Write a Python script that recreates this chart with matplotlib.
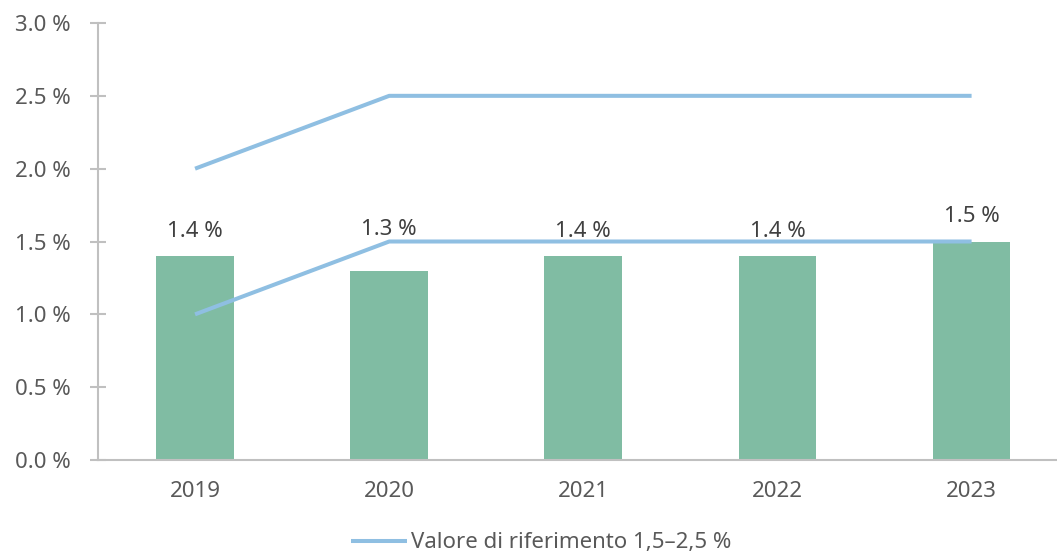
import numpy as np
import matplotlib.pyplot as plt

years = ["2019", "2020", "2021", "2022", "2023"]
values = [1.4, 1.3, 1.4, 1.4, 1.5]
ref_low = [1.0, 1.5, 1.5, 1.5, 1.5]
ref_high = [2.0, 2.5, 2.5, 2.5, 2.5]
yticks = [0.0, 0.5, 1.0, 1.5, 2.0, 2.5, 3.0]

plt.rcParams['font.family'] = ['Noto Sans', 'DejaVu Sans']
txt = "#595959"
bar_col = "#80bca3"
line_col = "#8fbfe2"
fs = 16

fig = plt.figure(figsize=(10.57, 5.53), dpi=100)
ax = fig.add_axes([98/1057, 93/553, 959/1057, 437/553])

x = np.arange(len(years))
ax.bar(x, values, width=0.40, color=bar_col, zorder=2)
ax.plot(x, ref_low, color=line_col, lw=2.9, zorder=3, solid_capstyle='butt',
        label="Valore di riferimento 1,5–2,5 %")
ax.plot(x, ref_high, color=line_col, lw=2.9, zorder=3, solid_capstyle='butt')

for xi, v in zip(x, values):
    # the 2020 label sits higher so it clears the reference line
    off = 26 if xi == 1 else 14
    ax.annotate(f"{v:.1f} %", (xi, v), xytext=(0, off), textcoords="offset points",
                ha="center", va="baseline", fontsize=fs, color="#404040")

ax.set_xlim(-0.5, 4.44)
ax.set_ylim(0, 3.0)
ax.set_yticks(yticks)
ax.set_yticklabels([f"{t:.1f} %" for t in yticks])
ax.set_xticks(x)
ax.set_xticklabels(years)

for s in ["top", "right"]:
    ax.spines[s].set_visible(False)
for s in ["left", "bottom"]:
    ax.spines[s].set_color("#c0c0c0")
    ax.spines[s].set_linewidth(1.5)
ax.tick_params(axis="y", colors="#c0c0c0", labelcolor=txt, labelsize=fs, direction="inout",
               length=11.5, width=1.5, pad=14)
ax.tick_params(axis="x", length=0, labelcolor=txt, labelsize=fs, pad=15)

leg = fig.legend(loc="lower center", bbox_to_anchor=(0.512, -0.037), frameon=False,
                 fontsize=fs, handlelength=2.5, handletextpad=0.2)
for t in leg.get_texts():
    t.set_color(txt)

fig.savefig("out.png", dpi=100)
